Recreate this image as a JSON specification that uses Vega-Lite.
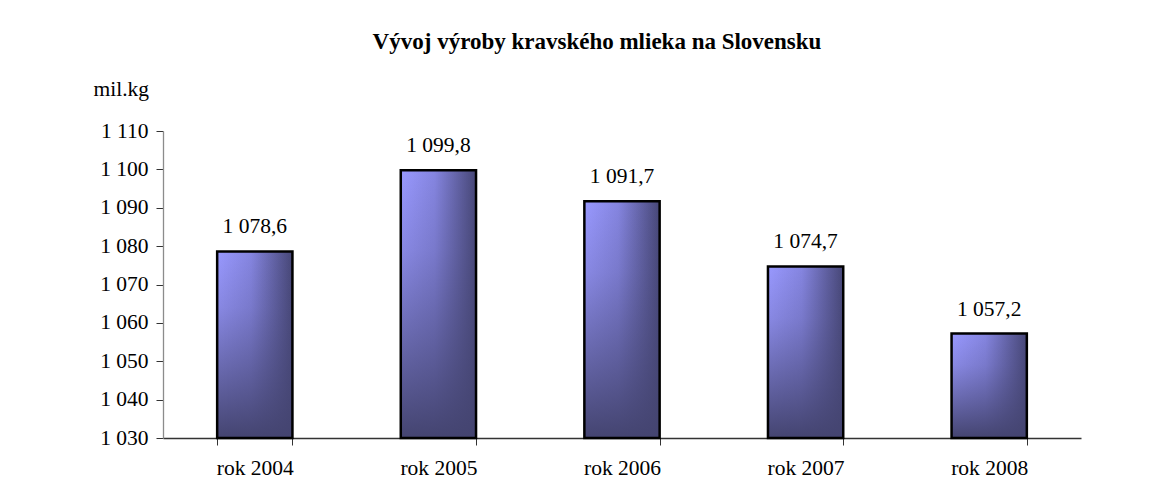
{
  "$schema": "https://vega.github.io/schema/vega-lite/v6.json",
  "width": 918,
  "height": 307,
  "autosize": "none",
  "padding": {"left": 163, "top": 131, "right": 91, "bottom": 43},
  "background": "white",
  "config": {
    "locale": {"number": {"decimal": ",", "thousands": " ", "grouping": [3], "currency": ["", ""]}},
    "view": {"stroke": null},
    "font": "Times New Roman",
    "text": {"font": "Times New Roman"},
    "title": {"font": "Times New Roman"},
    "axis": {"labelFont": "Times New Roman", "titleFont": "Times New Roman", "labelColor": "black", "titleColor": "black", "grid": false}
  },
  "title": {
    "text": "Vývoj výroby kravského mlieka na Slovensku",
    "font": "Times New Roman",
    "fontSize": 23,
    "fontWeight": "bold",
    "color": "black",
    "anchor": "middle",
    "frame": "group",
    "dx": -25,
    "offset": 24
  },
  "data": {
    "values": [
      {"rok": "rok 2004", "hodnota": 1078.6},
      {"rok": "rok 2005", "hodnota": 1099.8},
      {"rok": "rok 2006", "hodnota": 1091.7},
      {"rok": "rok 2007", "hodnota": 1074.7},
      {"rok": "rok 2008", "hodnota": 1057.2}
    ]
  },
  "encoding": {
    "x": {
      "field": "rok", "type": "nominal", "sort": null,
      "scale": {"paddingInner": 0.59, "paddingOuter": 0.295},
      "axis": {"title": null, "labelAngle": 0, "labelFont": "Times New Roman", "labelFontSize": 21.5, "labelPadding": 12, "domainColor": "#333333", "tickColor": "#333333", "tickSize": 7, "tickBand": "extent", "domainWidth": 1.3}
    },
    "y": {
      "field": "hodnota", "type": "quantitative",
      "scale": {"domain": [1030, 1110], "nice": false, "zero": false},
      "axis": {
        "values": [1030, 1040, 1050, 1060, 1070, 1080, 1090, 1100, 1110],
        "format": ",d",
        "labelFont": "Times New Roman",
        "labelFontSize": 21.5, "labelPadding": 8,
        "domainColor": "#8c8c8c", "domainWidth": 1.3, "tickColor": "#333333", "tickSize": 7,
        "title": "mil.kg", "titleFont": "Times New Roman", "titleFontSize": 21.5, "titleFontWeight": "normal", "titleAngle": 0,
        "titleX": -70, "titleY": -36, "titleAlign": "left", "titleBaseline": "alphabetic"
      }
    }
  },
  "layer": [
    {
      "mark": {
        "type": "bar",
        "color": {"gradient": "linear", "x1": 0, "y1": 0, "x2": 1, "y2": 0,
          "stops": [{"offset": 0, "color": "#9999ff"}, {"offset": 0.45, "color": "#8585e0"}, {"offset": 1, "color": "#474777"}]}
      },
      "encoding": {"y2": {"datum": 1030}}
    },
    {
      "mark": {
        "type": "bar",
        "color": {"gradient": "linear", "x1": 0, "y1": 0, "x2": 0, "y2": 1,
          "stops": [{"offset": 0, "color": "rgba(72,72,120,0)"}, {"offset": 0.3, "color": "rgba(72,72,120,0.2)"}, {"offset": 1, "color": "rgba(68,68,112,1)"}]},
        "stroke": "black",
        "strokeWidth": 2.5
      },
      "encoding": {"y2": {"datum": 1030}}
    },
    {
      "mark": {"type": "text", "baseline": "alphabetic", "dy": -18, "fontSize": 21.5, "font": "Times New Roman", "color": "black"},
      "encoding": {"text": {"field": "hodnota", "type": "quantitative", "format": ",.1f"}}
    }
  ]
}
